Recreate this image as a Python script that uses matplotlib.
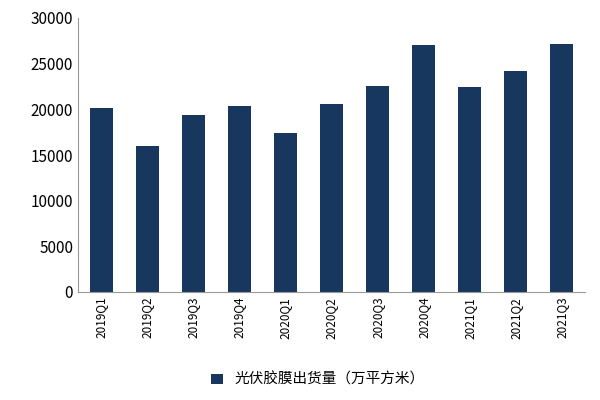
import matplotlib
matplotlib.use("Agg")
import matplotlib.pyplot as plt

categories = ["2019Q1","2019Q2","2019Q3","2019Q4","2020Q1","2020Q2","2020Q3","2020Q4","2021Q1","2021Q2","2021Q3"]
values = [20100,16000,19400,20400,17400,20600,22600,27000,22400,24200,27200]
series_name = "光伏胶膜出货量（万平方米）"

plt.rcParams['font.family'] = ['Noto Sans CJK SC', 'DejaVu Sans']
fig = plt.figure(figsize=(6,4), dpi=100)
ax = fig.add_axes([0.13, 0.27, 0.845, 0.685])
ax.bar(categories, values, width=0.5, color="#17375e", label=series_name)
ax.set_ylim(0, 30000)
ax.set_yticks(range(0, 30001, 5000))
ax.set_xlim(-0.5, len(categories)-0.5)
ax.tick_params(axis='x', rotation=90, labelsize=8.5, length=0)
ax.tick_params(axis='y', labelsize=11, length=0)
for s in ['top','right']:
    ax.spines[s].set_visible(False)
ax.spines['left'].set_color('#999999')
ax.spines['bottom'].set_color('#999999')
fig.legend(loc='lower center', bbox_to_anchor=(0.53, 0.0), frameon=False, fontsize=10.5, handlelength=0.8)
fig.savefig("out.png")
